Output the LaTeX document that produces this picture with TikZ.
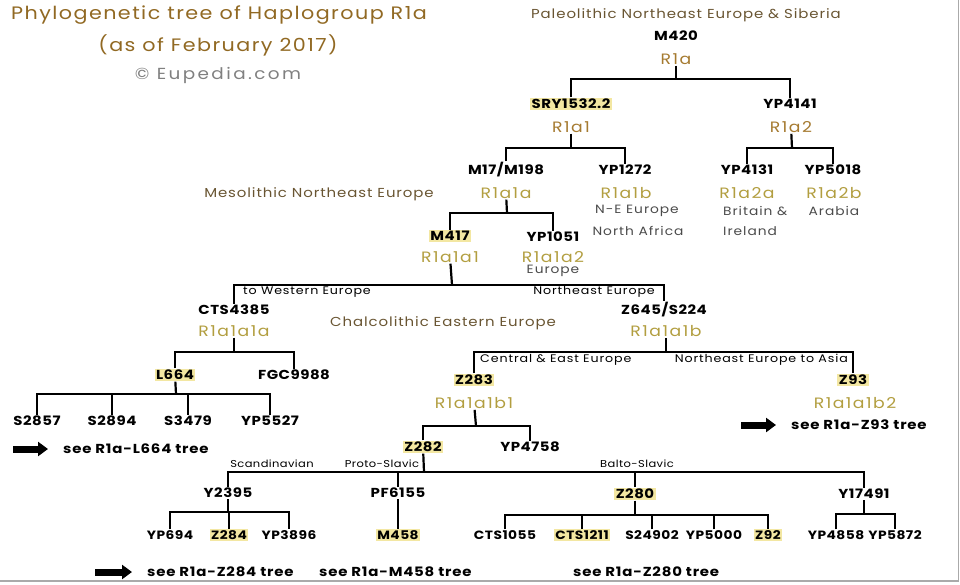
\documentclass[tikz,border=0pt]{standalone}
\usepackage{fontspec}
\setmainfont{Poppins}[FakeStretch=1.15]
\usetikzlibrary{arrows.meta}
\definecolor{titlebrown}{RGB}{145,105,35}
\definecolor{cladebrown}{RGB}{165,122,48}
\definecolor{cladegold}{RGB}{178,158,64}
\definecolor{regionbrown}{RGB}{105,85,50}
\definecolor{notegrey}{RGB}{75,75,75}
\definecolor{hlyellow}{RGB}{243,231,162}
\definecolor{framegrey}{RGB}{170,170,170}
\newcommand{\ls}[1]{\addfontfeature{LetterSpace=#1}}
\begin{document}
\begin{tikzpicture}[x=1pt,y=-1pt,
	titletext/.style={text=titlebrown,font=\fontsize{18}{20}\selectfont\ls{8}},
	snp/.style={font=\fontsize{13}{15}\selectfont\bfseries\ls{4},inner sep=1pt},
	hl/.style={snp,fill=hlyellow,inner sep=1.5pt},
	snplow/.style={font=\fontsize{12}{14}\selectfont\bfseries\ls{4},inner sep=1pt},
	hllow/.style={snplow,fill=hlyellow,inner sep=1.5pt},
	clade/.style={text=cladegold,font=\fontsize{15}{17}\selectfont\ls{10},inner sep=1pt},
	topclade/.style={clade,text=cladebrown},
	region/.style={text=regionbrown,font=\fontsize{13}{15}\selectfont\ls{7},inner sep=1pt},
	note/.style={text=notegrey,font=\fontsize{12}{14}\selectfont\ls{8},inner sep=1pt},
	branchnote/.style={font=\fontsize{11}{13}\selectfont\ls{8},inner sep=1pt},
	smallnote/.style={font=\fontsize{10}{12}\selectfont\ls{4},inner sep=1pt},
	seetree/.style={font=\fontsize{13}{15}\selectfont\bfseries\ls{6},inner sep=1pt},
	br/.style={line width=2.2pt},
	bigarrow/.style={line width=7pt,shorten >=14pt,-{Triangle[length=10pt,width=14pt]}}]
	\useasboundingbox (0,0) rectangle (960,585);
	\draw[framegrey,line width=1.5pt] (0,581) -- (958.5,581) -- (958.5,0);
	% title
	\node[titletext] (title) at (219,15) {Phylogenetic tree of Haplogroup R1a};
	\node[titletext] (asof) at (218,45) {(as of February 2017)};
	\node[text=gray,font=\fontsize{16}{18}\selectfont\ls{15}] (eupedia) at (218,75) {© Eupedia.com};
	% R1a
	\node[region] (paleo) at (686,15) {Paleolithic Northeast Europe \& Siberia};
	\node[snp] (m420) at (676,36) {M420};
	\node[topclade] (r1a) at (676,59) {R1a};
	\node[hl] (sry) at (571,104) {SRY1532.2};
	\node[snp] (yp4141) at (790,104) {YP4141};
	\node[topclade] (r1aone) at (571,127) {R1a1};
	\node[topclade] (r1atwo) at (791,127) {R1a2};
	\node[snp] (m17) at (506,170) {M17/M198};
	\node[snp] (yp1272) at (625,170) {YP1272};
	\node[snp] (yp4131) at (747,170) {YP4131};
	\node[snp] (yp5018) at (833,170) {YP5018};
	\node[clade] (r1a1a) at (506,193) {R1a1a};
	\node[clade] (r1a1b) at (626,193) {R1a1b};
	\node[clade] (r1a2a) at (747,193) {R1a2a};
	\node[clade] (r1a2b) at (834,193) {R1a2b};
	\node[note] (ne) at (637,211) {N-E Europe};
	\node[note] (nafr) at (638,231) {North Africa};
	\node[note,anchor=west] (brit) at (722,211) {Britain \&};
	\node[note,anchor=west] (irel) at (722,231) {Ireland};
	\node[note] (arab) at (834,211) {Arabia};
	% R1a1a
	\node[region] (meso) at (319,194) {Mesolithic Northeast Europe};
	\node[hl] (m417) at (450,236) {M417};
	\node[snp] (yp1051) at (553,237) {YP1051};
	\node[clade] (r1a1a1) at (450,257) {R1a1a1};
	\node[clade] (r1a1a2) at (553,257) {R1a1a2};
	\node[note] (europe) at (553,271) {Europe};
	\node[branchnote,anchor=west] (towest) at (242,292) {to Western Europe};
	\node[branchnote,anchor=east] (toneast) at (656,292) {Northeast Europe};
	\node[snp] (cts4385) at (234,310) {CTS4385};
	\node[snp] (z645) at (664,310) {Z645/S224};
	\node[clade] (r1a1a1a) at (234,331) {R1a1a1a};
	\node[clade] (r1a1a1b) at (666,331) {R1a1a1b};
	\node[region] (chalco) at (443,323) {Chalcolithic Eastern Europe};
	% L664
	\node[hl] (l664) at (175,375) {L664};
	\node[snp] (fgc9988) at (294,375) {FGC9988};
	\node[snp] (s2857) at (37,421) {S2857};
	\node[snp] (s2894) at (112,421) {S2894};
	\node[snp] (s3479) at (188,421) {S3479};
	\node[snp] (yp5527) at (270,421) {YP5527};
	\coordinate (arr1) at (13,449);
	\node[seetree,anchor=west] (seel664) at (62,449) {see R1a-L664 tree};
	% Z645
	\node[branchnote,anchor=west] (cee) at (479,360) {Central \& East Europe};
	\node[branchnote,anchor=east] (neasia) at (849,360) {Northeast Europe to Asia};
	\node[hl] (z283) at (474,380) {Z283};
	\node[hl] (z93) at (853,380) {Z93};
	\node[clade] (r1a1a1b1) at (474,403) {R1a1a1b1};
	\node[clade] (r1a1a1b2) at (855,403) {R1a1a1b2};
	\coordinate (arr2) at (741,425);
	\node[seetree,anchor=west] (seez93) at (790,425) {see R1a-Z93 tree};
	\node[hl] (z282) at (423,447) {Z282};
	\node[snp] (yp4758) at (530,447) {YP4758};
	% Z282
	\node[smallnote] (scand) at (272,464) {Scandinavian};
	\node[smallnote] (protosl) at (382,464) {Proto-Slavic};
	\node[smallnote] (baltosl) at (637,464) {Balto-Slavic};
	\node[snp] (y2395) at (228,493) {Y2395};
	\node[snp] (pf6155) at (398,493) {PF6155};
	\node[hl] (z280) at (635,494) {Z280};
	\node[snp] (y17491) at (864,494) {Y17491};
	\node[snplow] (yp694) at (170,535) {YP694};
	\node[hllow] (z284) at (229,535) {Z284};
	\node[snplow] (yp3896) at (289,535) {YP3896};
	\node[hllow] (m458) at (398,535) {M458};
	\node[snplow] (cts1055) at (505,535) {CTS1055};
	\node[hllow] (cts1211) at (582,535) {CTS1211};
	\node[snplow] (s24902) at (652,535) {S24902};
	\node[snplow] (yp5000) at (714,535) {YP5000};
	\node[hllow] (z92) at (768,535) {Z92};
	\node[snplow] (yp4858) at (836,535) {YP4858};
	\node[snplow] (yp5872) at (895,535) {YP5872};
	\coordinate (arr3) at (95,572);
	\node[seetree,anchor=west] (seez284) at (146,572) {see R1a-Z284 tree};
	\node[seetree,anchor=west] (seem458) at (318,572) {see R1a-M458 tree};
	\node[seetree,anchor=west] (seez280) at (572,572) {see R1a-Z280 tree};
	% bars
	\coordinate (b1) at (676,79);
	\coordinate (b2) at (571,148);
	\coordinate (b3) at (792,148);
	\coordinate (b4) at (507,213);
	\coordinate (b5) at (452,285);
	\coordinate (b6) at (234,352);
	\coordinate (b7) at (176,394);
	\coordinate (b8) at (666,352);
	\coordinate (b9) at (476,426);
	\coordinate (b10) at (424,472);
	\coordinate (b11) at (228,512);
	\coordinate (b12) at (635,515);
	\coordinate (b13) at (864,514);
	\draw[br] (r1a) -- (b1);
	\draw[br] (sry.north) |- (b1) -| (yp4141.north);
	\draw[br] (r1aone) -- (b2);
	\draw[br] (m17.north) |- (b2) -| (yp1272.north);
	\draw[br] (r1atwo) -- (b3);
	\draw[br] (yp4131.north) |- (b3) -| (yp5018.north);
	\draw[br] (r1a1a) -- (b4);
	\draw[br] (m417.north) |- (b4) -| (yp1051.north);
	\draw[br] (r1a1a1) -- (b5);
	\draw[br] (cts4385.north) |- (b5) -| (z645.north);
	\draw[br] (r1a1a1a) -- (b6);
	\draw[br] (l664.north) |- (b6) -| (fgc9988.north);
	\draw[br] (l664) -- (b7);
	\draw[br] (s2857.north) |- (b7) -| (yp5527.north);
	\draw[br] (s2894.north) -- (s2894.north |- b7);
	\draw[br] (s3479.north) -- (s3479.north |- b7);
	\draw[br] (r1a1a1b) -- (b8);
	\draw[br] (z283.north) |- (b8) -| (z93.north);
	\draw[br] (r1a1a1b1) -- (b9);
	\draw[br] (z282.north) |- (b9) -| (yp4758.north);
	\draw[br] (z282) -- (b10);
	\draw[br] (y2395.north) |- (b10) -| (y17491.north);
	\draw[br] (pf6155.north) -- (pf6155.north |- b10);
	\draw[br] (z280.north) -- (z280.north |- b10);
	\draw[br] (y2395) -- (b11);
	\draw[br] (yp694.north) |- (b11) -| (yp3896.north);
	\draw[br] (z284.north) -- (z284.north |- b11);
	\draw[br] (pf6155) -- (m458);
	\draw[br] (z280) -- (b12);
	\draw[br] (cts1055.north) |- (b12) -| (z92.north);
	\draw[br] (cts1211.north) -- (cts1211.north |- b12);
	\draw[br] (s24902.north) -- (s24902.north |- b12);
	\draw[br] (yp5000.north) -- (yp5000.north |- b12);
	\draw[br] (y17491) -- (b13);
	\draw[br] (yp4858.north) |- (b13) -| (yp5872.north);
	% arrows
	\draw[bigarrow] (arr1) -- (seel664.west);
	\draw[bigarrow] (arr2) -- (seez93.west);
	\draw[bigarrow] (arr3) -- (seez284.west);
\end{tikzpicture}
\end{document}
